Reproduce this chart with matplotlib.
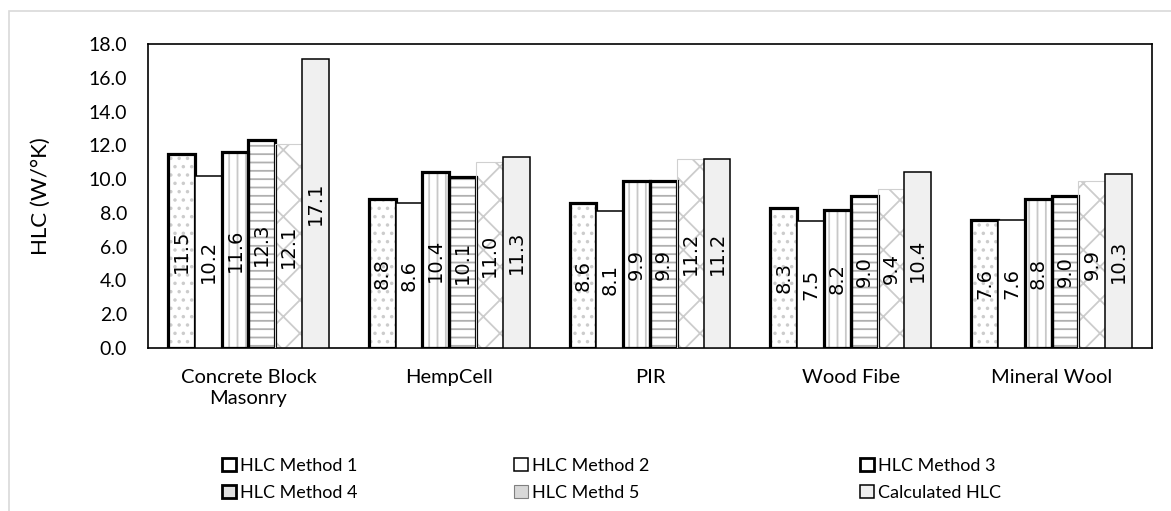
import numpy as np
import matplotlib
matplotlib.use("Agg")
import matplotlib.pyplot as plt
from matplotlib.patches import Patch, Rectangle

categories = ["Concrete Block\nMasonry", "HempCell", "PIR", "Wood Fibe", "Mineral Wool"]
series_names = ["HLC Method 1", "HLC Method 2", "HLC Method 3",
                "HLC Method 4", "HLC Methd 5", "Calculated HLC"]
method1 = [11.5, 8.8, 8.6, 8.3, 7.6]
method2 = [10.2, 8.6, 8.1, 7.5, 7.6]
method3 = [11.6, 10.4, 9.9, 8.2, 8.8]
method4 = [12.3, 10.1, 9.9, 9.0, 9.0]
method5 = [12.1, 11.0, 11.2, 9.4, 9.9]
calculated = [17.1, 11.3, 11.2, 10.4, 10.3]
yticks = [0, 2, 4, 6, 8, 10, 12, 14, 16, 18]

series = [method1, method2, method3, method4, method5, calculated]
# (face, hatch, hatch colour, edge colour, edge width)
styles = [
    ("white", "..", "#cccccc", "black", 2.3),
    ("white", None, None, "black", 1.1),
    ("white", "||", "#c8c8c8", "black", 2.3),
    ("white", "--", "#b0b0b0", "black", 2.3),
    ("white", "x", "#cccccc", "#d0d0d0", 0.8),
    ("#f0f0f0", None, None, "black", 1.1),
]

plt.rcParams["font.family"] = ["Lato", "DejaVu Sans"]
plt.rcParams["hatch.linewidth"] = 1.3

fig = plt.figure(figsize=(11.71, 5.11), dpi=100)
ax = fig.add_axes([148 / 1171, 1 - 348 / 511, (1152 - 148) / 1171, (348 - 44) / 511])

# light chart border
fig.patches.append(Rectangle((9 / 1171, -0.1), 1.2, 1.1 - 11 / 511, transform=fig.transFigure,
                             fill=False, edgecolor="#d9d9d9", linewidth=1.2))

x = np.arange(len(categories))
n = len(series)
w = 0.8 / n
for i, (vals, (fc, hatch, hc, ec, lw)) in enumerate(zip(series, styles)):
    pos = x - 0.4 + w * (i + 0.5)
    if hatch:
        ax.bar(pos, vals, w, color=fc, hatch=hatch, edgecolor=hc, linewidth=0, zorder=2)
        ax.bar(pos, vals, w, fill=False, edgecolor=ec, linewidth=lw, zorder=3)
    else:
        ax.bar(pos, vals, w, color=fc, edgecolor=ec, linewidth=lw, zorder=3)
    for p, v in zip(pos, vals):
        ax.text(p, v / 2, f"{v:.1f}", rotation=90, ha="center", va="center",
                fontsize=14, family="DejaVu Sans", zorder=4)

ax.set_xlim(-0.5, len(categories) - 0.5)
ax.set_ylim(0, 18)
ax.set_yticks(yticks)
ax.set_yticklabels([f"{t:.1f}" for t in yticks], fontsize=14)
ax.set_xticks(x)
ax.set_xticklabels(categories, fontsize=14.5, linespacing=1.3)
ax.tick_params(axis="both", length=0)
ax.tick_params(axis="y", pad=15)
ax.tick_params(axis="x", pad=15)
for s in ax.spines.values():
    s.set_linewidth(1.2)
ax.set_ylabel("HLC (W/°K)", fontsize=16, labelpad=27)

handles = []
for name, (fc, hatch, hc, ec, lw) in zip(series_names, styles):
    face = "#d8d8d8" if hatch == "x" else ("#e0e0e0" if hatch == "--" else fc)
    edge = "#808080" if hatch == "x" else "black"
    handles.append(Patch(facecolor=face, edgecolor=edge, linewidth=min(lw, 2.0), label=name))

col_x = [222, 514, 860]
for c in range(3):
    hs = [handles[c], handles[c + 3]]
    fig.legend(handles=hs, loc="upper left",
               bbox_to_anchor=(col_x[c] / 1171, 1 - 458 / 511),
               frameon=False, prop={"family": "Lato", "size": 13},
               handlelength=0.75, handleheight=0.75,
               handletextpad=0.25, labelspacing=0.6, borderaxespad=0, borderpad=0)

fig.savefig("out.png", dpi=100)
